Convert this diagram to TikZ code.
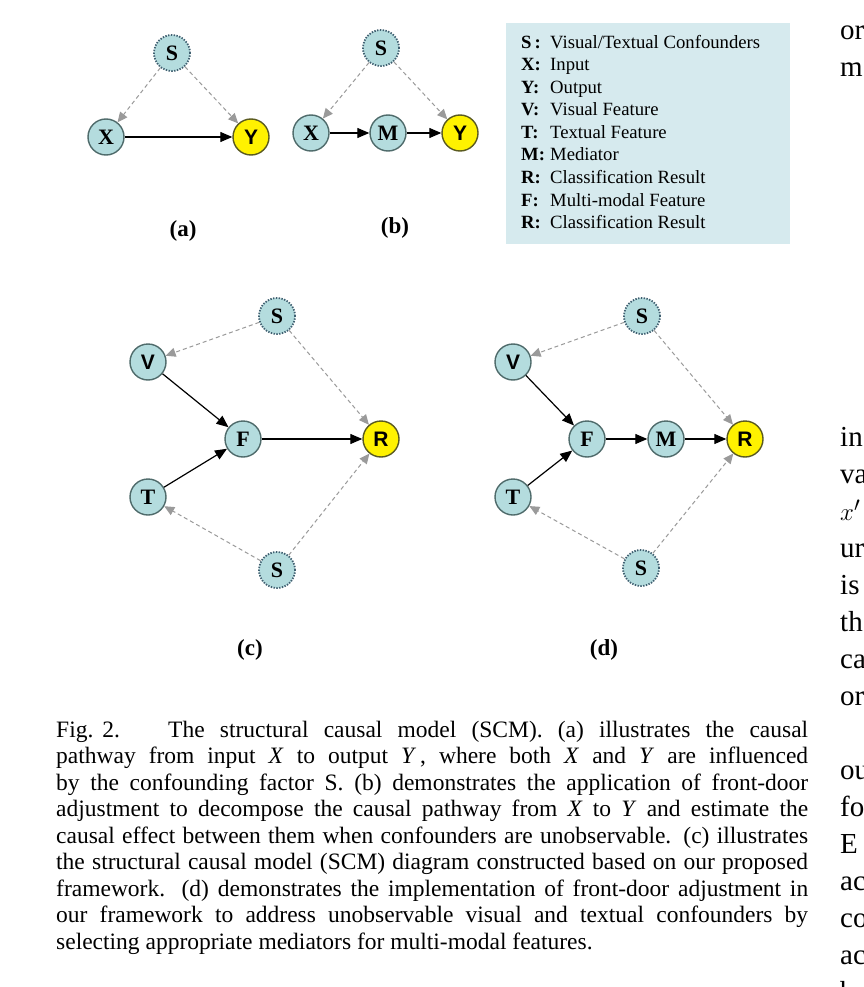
\documentclass[tikz,border=0pt]{standalone}
\usepackage{fontspec}
\setmainfont{Liberation Serif}
\newfontfamily\arialfont{Liberation Sans}
\usetikzlibrary{arrows.meta}
\definecolor{nodefill}{HTML}{B4DCDE}
\definecolor{nodeline}{HTML}{4F6B6B}
\definecolor{sline}{HTML}{3F5F70}
\definecolor{yline}{HTML}{5A5A20}
\definecolor{legfill}{HTML}{D6EAEE}
\definecolor{dashgray}{HTML}{9A9A9A}
\tikzset{
  var/.style={circle, minimum size=36pt, inner sep=0pt, fill=nodefill, draw=nodeline, line width=1.4pt, font=\fontsize{22}{22}\selectfont\bfseries},
  svar/.style={var, draw=sline, dash pattern=on 1.4pt off 1.4pt, line width=1.8pt, minimum size=36pt},
  yvar/.style={var, fill=yellow, draw=yline, font=\fontsize{21}{21}\selectfont\arialfont\bfseries},
  sansvar/.style={var, font=\fontsize{21}{21}\selectfont\arialfont\bfseries},
  causal/.style={-{Triangle[length=12pt,width=10pt]}, line width=1.2pt, black},
  conf/.style={-{Triangle[length=10pt,width=9pt]}, line width=1pt, dashgray, dash pattern=on 4pt off 3pt},
  panel/.style={font=\fontsize{23}{23}\selectfont\bfseries},
  legline/.style={anchor=base west, font=\fontsize{18.7}{18.7}\selectfont, inner sep=0pt},
  capline/.style={anchor=base west, font=\fontsize{23.5}{26.5}\selectfont, inner sep=0pt},
  colfrag/.style={anchor=base west, font=\fontsize{29}{29}\selectfont, inner sep=0pt}
}
\newcommand{\leglab}[1]{\makebox[29pt][l]{\textbf{#1}}}
\begin{document}
\begin{tikzpicture}[x=1pt,y=-1pt]
\useasboundingbox (0,0) rectangle (863,987);
\fill[white] (0,0) rectangle (863,987);

% (a)
\node[svar] (aS) at (172,53) {S};
\node[var] (aX) at (106,137) {X};
\node[yvar] (aY) at (251,137) {Y};
\draw[causal] (aX) -- (aY);
\draw[conf] (aS) -- (aX);
\draw[conf] (aS) -- (aY);
\node[panel] (la) at (183,231) {(a)};

% (b)
\node[svar] (bS) at (381,48) {S};
\node[var] (bX) at (311,133) {X};
\node[var] (bM) at (388,133) {M};
\node[yvar] (bY) at (460,133) {Y};
\draw[causal] (bX) -- (bM);
\draw[causal] (bM) -- (bY);
\draw[conf] (bS) -- (bX);
\draw[conf] (bS) -- (bY);
\node[panel] (lb) at (395,228) {(b)};

% legend
\node[fill=legfill, minimum width=284pt, minimum height=221pt, inner sep=0pt] (leg) at (648,133.5) {};
\node[legline] (l1) at (521,48.5) {\leglab{S\,:}Visual/Textual Confounders};
\node[legline] (l2) at (521,71) {\leglab{X:}Input};
\node[legline] (l3) at (521,93.5) {\leglab{Y:}Output};
\node[legline] (l4) at (521,116) {\leglab{V:}Visual Feature};
\node[legline] (l5) at (521,138.5) {\leglab{T:}Textual Feature};
\node[legline] (l6) at (521,161) {\leglab{M:}Mediator};
\node[legline] (l7) at (521,183.5) {\leglab{R:}Classification Result};
\node[legline] (l8) at (521,206) {\leglab{F:}Multi-modal Feature};
\node[legline] (l9) at (521,228.5) {\leglab{R:}Classification Result};

% (c)
\node[svar] (cS1) at (277,316) {S};
\node[sansvar] (cV) at (148,362) {V};
\node[var] (cF) at (243,439) {F};
\node[yvar] (cR) at (381,439) {R};
\node[var] (cT) at (148,497) {T};
\node[svar] (cS2) at (277,570) {S};
\draw[causal] (cV) -- (cF);
\draw[causal] (cT) -- (cF);
\draw[causal] (cF) -- (cR);
\draw[conf] (cS1) -- (cV);
\draw[conf] (cS1) -- (cR);
\draw[conf] (cS2) -- (cT);
\draw[conf] (cS2) -- (cR);
\node[panel] (lc) at (250,650) {(c)};

% (d)
\node[svar] (dS1) at (642,316) {S};
\node[sansvar] (dV) at (513,362) {V};
\node[var] (dF) at (587,439) {F};
\node[var] (dM) at (666,439) {M};
\node[yvar] (dR) at (745,439) {R};
\node[var] (dT) at (513,497) {T};
\node[svar] (dS2) at (641,568) {S};
\draw[causal] (dV) -- (dF);
\draw[causal] (dT) -- (dF);
\draw[causal] (dF) -- (dM);
\draw[causal] (dM) -- (dR);
\draw[conf] (dS1) -- (dV);
\draw[conf] (dS1) -- (dR);
\draw[conf] (dS2) -- (dT);
\draw[conf] (dS2) -- (dR);
\node[panel] (ld) at (604,650) {(d)};

% caption
\node[capline] (c1) at (56,737) {\makebox[112pt][l]{Fig.\hspace{9pt}2.}\makebox[640pt][s]{The structural causal model (SCM). (a) illustrates the causal}};
\node[capline] (c2) at (56,763.5) {\makebox[752pt][s]{pathway from input \textit{X} to output \textit{Y}\,, where both \textit{X} and \textit{Y} are influenced}};
\node[capline] (c3) at (56,790) {\makebox[752pt][s]{by the confounding factor S. (b) demonstrates the application of front-door}};
\node[capline] (c4) at (56,816.5) {\makebox[752pt][s]{adjustment to decompose the causal pathway from \textit{X} to \textit{Y} and estimate the}};
\node[capline] (c5) at (56,843) {\makebox[752pt][s]{causal effect between them when confounders are unobservable. (c) illustrates}};
\node[capline] (c6) at (56,869.5) {\makebox[752pt][s]{the structural causal model (SCM) diagram constructed based on our proposed}};
\node[capline] (c7) at (56,896) {\makebox[752pt][s]{framework. (d) demonstrates the implementation of front-door adjustment in}};
\node[capline] (c8) at (56,922.5) {\makebox[752pt][s]{our framework to address unobservable visual and textual confounders by}};
\node[capline] (c9) at (56,949) {selecting appropriate mediators for multi-modal features.};

% fragments of the neighbouring column
\node[colfrag] (f1) at (840,39.5) {or};
\node[colfrag] (f2) at (840,76.5) {m};
\node[colfrag] (f3) at (840,446.5) {in};
\node[colfrag] (f4) at (840,483.5) {va};
\node[colfrag] (f5) at (840,520.5) {$x'$};
\node[colfrag] (f6) at (840,557.5) {ur};
\node[colfrag] (f7) at (840,594.5) {is};
\node[colfrag] (f8) at (840,631.5) {th};
\node[colfrag] (f9) at (840,668.5) {ca};
\node[colfrag] (f10) at (840,705.5) {or};
\node[colfrag] (f11) at (840,779.5) {ou};
\node[colfrag] (f12) at (840,816.5) {fo};
\node[colfrag] (f13) at (840,853.5) {E};
\node[colfrag] (f14) at (840,890.5) {ac};
\node[colfrag] (f15) at (840,927.5) {co};
\node[colfrag] (f16) at (840,964.5) {ac};
\node[colfrag] (f17) at (840,1001.5) {ba};
\end{tikzpicture}
\end{document}
